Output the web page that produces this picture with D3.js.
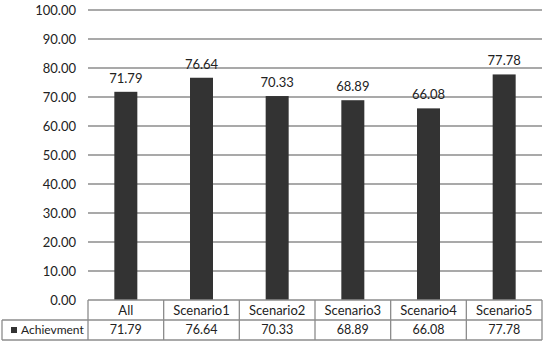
<!DOCTYPE html>
<html>
<head>
<meta charset="utf-8">
<script src="https://cdn.jsdelivr.net/npm/d3@7"></script>
<style>
  body { margin: 0; background: #fff; }
  text { font-family: Lato, "Open Sans", sans-serif; fill: #222; }
</style>
</head>
<body>
<div id="chart"></div>
<script>
// Data
const categories = ["All", "Scenario1", "Scenario2", "Scenario3", "Scenario4", "Scenario5"];
const achievment = [71.79, 76.64, 70.33, 68.89, 66.08, 77.78];
const seriesName = "Achievment";
const yTicks = [0, 10, 20, 30, 40, 50, 60, 70, 80, 90, 100];

const width = 550, height = 347;
const margin = { left: 88, right: 8, top: 10, bottom: 47 };
const rowH = 20;

const svg = d3.select("#chart").append("svg")
    .attr("width", width)
    .attr("height", height);

const x = d3.scaleBand()
    .domain(categories)
    .range([margin.left, width - margin.right]);

const y = d3.scaleLinear()
    .domain([0, 100])
    .range([height - margin.bottom, margin.top]);

// gridlines
svg.selectAll(".grid")
    .data(yTicks.filter(d => d > 0))
    .enter()
    .append("line")
    .attr("class", "grid")
    .attr("x1", margin.left)
    .attr("x2", width - margin.right)
    .attr("y1", d => y(d))
    .attr("y2", d => y(d))
    .attr("stroke", "#8c8c8c")
    .attr("stroke-width", 1.3);

// y labels
svg.selectAll(".ylab")
    .data(yTicks)
    .enter()
    .append("text")
    .attr("class", "ylab")
    .attr("x", 76)
    .attr("y", d => y(d))
    .attr("dy", "0.35em")
    .attr("text-anchor", "end")
    .style("font-size", "13px")
    .text(d => d.toFixed(2));

// bars
const barW = 23;
svg.selectAll(".bar")
    .data(achievment)
    .enter()
    .append("rect")
    .attr("class", "bar")
    .attr("x", (d, i) => x(categories[i]) + x.bandwidth() / 2 - barW / 2)
    .attr("y", d => y(d))
    .attr("width", barW)
    .attr("height", d => y(0) - y(d))
    .attr("fill", "#333333");

// value labels
svg.selectAll(".val")
    .data(achievment)
    .enter()
    .append("text")
    .attr("class", "val")
    .attr("x", (d, i) => x(categories[i]) + x.bandwidth() / 2)
    .attr("y", d => y(d) - 9)
    .attr("text-anchor", "middle")
    .style("font-size", "13px")
    .text(d => d.toFixed(2));

// data table
const t0 = y(0);
const tableStroke = "#8c8c8c";
const tbl = svg.append("g");

// horizontal lines
tbl.append("line")
    .attr("x1", margin.left).attr("x2", width - margin.right)
    .attr("y1", t0).attr("y2", t0)
    .attr("stroke", tableStroke).attr("stroke-width", 1.3);
[t0 + rowH, t0 + 2 * rowH].forEach(yy => {
    tbl.append("line")
        .attr("x1", 2).attr("x2", width - margin.right)
        .attr("y1", yy).attr("y2", yy)
        .attr("stroke", tableStroke).attr("stroke-width", 1.3);
});
// vertical lines
const edges = categories.map(c => x(c)).concat([x.range()[1]]);
edges.forEach(xx => {
    tbl.append("line")
        .attr("x1", xx).attr("x2", xx)
        .attr("y1", t0).attr("y2", t0 + 2 * rowH)
        .attr("stroke", tableStroke).attr("stroke-width", 1.3);
});
tbl.append("line")
    .attr("x1", 2).attr("x2", 2)
    .attr("y1", t0 + rowH).attr("y2", t0 + 2 * rowH)
    .attr("stroke", tableStroke).attr("stroke-width", 1.3);

// category row
tbl.selectAll(".cat")
    .data(categories)
    .enter()
    .append("text")
    .attr("class", "cat")
    .attr("x", d => x(d) + x.bandwidth() / 2)
    .attr("y", t0 + rowH / 2)
    .attr("dy", "0.35em")
    .attr("text-anchor", "middle")
    .style("font-size", "13px")
    .text(d => d);

// value row
tbl.selectAll(".tval")
    .data(achievment)
    .enter()
    .append("text")
    .attr("class", "tval")
    .attr("x", (d, i) => x(categories[i]) + x.bandwidth() / 2)
    .attr("y", t0 + rowH * 1.5)
    .attr("dy", "0.35em")
    .attr("text-anchor", "middle")
    .style("font-size", "12.5px")
    .text(d => d.toFixed(2));

// legend key
tbl.append("rect")
    .attr("x", 11).attr("y", t0 + rowH * 1.5 - 3)
    .attr("width", 6).attr("height", 6)
    .attr("fill", "#333333");
tbl.append("text")
    .attr("x", 21)
    .attr("y", t0 + rowH * 1.5)
    .attr("dy", "0.35em")
    .style("font-size", "12px")
    .text(seriesName);
</script>
</body>
</html>
